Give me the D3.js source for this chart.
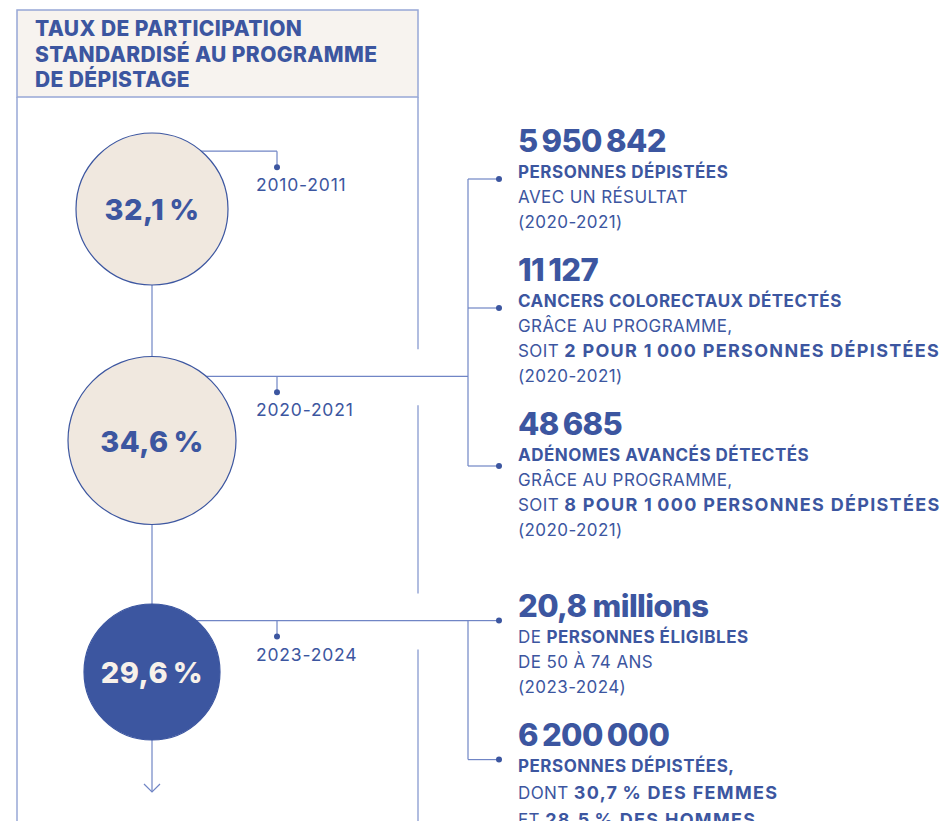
<!DOCTYPE html>
<html>
<head>
<meta charset="utf-8">
<script src="https://cdn.jsdelivr.net/npm/d3@7"></script>
<style>
  body { margin: 0; background: #fff; }
  svg { display: block; font-family: Inter, Lato, sans-serif; }
</style>
</head>
<body>
<svg id="chart" width="950" height="821"></svg>
<script>
// data
const headerLines = ['TAUX DE PARTICIPATION', 'STANDARDISÉ AU PROGRAMME', 'DE DÉPISTAGE'];
const periods = ['2010-2011', '2020-2021', '2023-2024'];
const rates = [32.1, 34.6, 29.6];
const highlight = '2023-2024';

const statValues = ['5\u2009950\u2009842', '11\u2009127', '48\u2009685', '20,8 millions', '6\u2009200\u2009000'];
const statPeriod = ['2020-2021', '2020-2021', '2020-2021', '2023-2024', '2023-2024'];
// each line: list of [text, weight] -> 0 regular, 1 bold, 2 bold emphasis
const statLines = [
  [[['PERSONNES DÉPISTÉES', 1]], [['AVEC UN RÉSULTAT', 0]], [['(2020-2021)', 0]]],
  [[['CANCERS COLORECTAUX DÉTECTÉS', 1]], [['GRÂCE AU PROGRAMME,', 0]],
   [['SOIT ', 0], ['2 POUR 1\u2009000 PERSONNES DÉPISTÉES', 2]], [['(2020-2021)', 0]]],
  [[['ADÉNOMES AVANCÉS DÉTECTÉS', 1]], [['GRÂCE AU PROGRAMME,', 0]],
   [['SOIT ', 0], ['8 POUR 1\u2009000 PERSONNES DÉPISTÉES', 2]], [['(2020-2021)', 0]]],
  [[['DE ', 0], ['PERSONNES ÉLIGIBLES', 1]], [['DE 50 À 74 ANS', 0]], [['(2023-2024)', 0]]],
  [[['PERSONNES DÉPISTÉES,', 1]], [['DONT ', 0], ['30,7\u2009% DES FEMMES', 2]],
   [['ET ', 0], ['28,5\u2009% DES HOMMES', 2]]]
];

// layout
const dotShift = [27, 27, 31, 4, 14];
const lineGap = [25, 25, 25, 25, 27];
const textBlue = '#3c56a0', lineBlue = '#7085c5', borderBlue = '#97a7d6';
const headFill = '#f7f3ef', circleFill = '#f0e8df', lightText = '#f7f1ea';
const partSize = [17, 17, 18], partSpacing = [0.4, 0.5, 1.3], partWeight = [400, 700, 700];

const fr = d3.formatLocale({decimal: ',', thousands: '\u2009', grouping: [3], currency: ['', ' €']});
const fmtRate = v => fr.format('.1f')(v) + '\u2009%';

const svg = d3.select('#chart');
const cx = 152, tickX = 277, bracketX = 468, dotX = 499, textX = 518;

const y = d3.scalePoint().domain(periods).range([209, 672]);
const r = d3.scaleLinear().domain(d3.extent(rates)).range([68, 84]);
const linkY = (p, v) => y(p) - 0.8 * r(v) + 3;

// frame
svg.append('rect')
  .attr('x', 17).attr('y', 10).attr('width', 401).attr('height', 87)
  .attr('fill', headFill).attr('stroke', borderBlue).attr('stroke-width', 1.5);
svg.append('line').attr('x1', 17).attr('x2', 17).attr('y1', 97).attr('y2', 821)
  .attr('stroke', borderBlue).attr('stroke-width', 1.5);

// right border is cut where the long links pass
const cuts = periods.filter(p => statPeriod.includes(p))
  .map(p => linkY(p, rates[periods.indexOf(p)]));
let segs = [], start = 97;
cuts.forEach(c => { segs.push([start, c - 27]); start = c + 29; });
segs.push([start, 821]);
svg.selectAll('.rborder').data(segs).join('line')
  .attr('x1', 418).attr('x2', 418)
  .attr('y1', d => d[0]).attr('y2', d => d[1])
  .attr('stroke', borderBlue).attr('stroke-width', 1.5);

svg.selectAll('.head').data(headerLines).join('text')
  .attr('x', 35).attr('y', (d, i) => 36 + i * 25.5)
  .attr('fill', textBlue).attr('font-size', 21).attr('font-weight', 800)
  .attr('letter-spacing', 0.4)
  .text(d => d);

// spine with arrow
svg.append('line').attr('x1', cx).attr('x2', cx)
  .attr('y1', y(periods[0])).attr('y2', 792)
  .attr('stroke', lineBlue).attr('stroke-width', 1.2);
svg.append('path').attr('d', `M${cx - 8},784L${cx},792L${cx + 8},784`)
  .attr('fill', 'none').attr('stroke', lineBlue).attr('stroke-width', 1.2);

// stat blocks positions
const blocks = [];
let base = 152, prevPeriod = null;
statValues.forEach((v, i) => {
  const p = statPeriod[i];
  if (p !== prevPeriod && prevPeriod !== null) {
    base = linkY(p, rates[periods.indexOf(p)]) - 4;
  }
  prevPeriod = p;
  const lines = statLines[i];
  blocks.push({value: v, period: p, base, lines, gap: lineGap[i], dotY: base + dotShift[i]});
  base = base + 26 + lineGap[i] * (lines.length - 1) + 53;
});

// links from circles
periods.forEach((p, i) => {
  const ly = linkY(p, rates[i]);
  const hasStats = statPeriod.includes(p);
  const endX = hasStats ? bracketX : tickX;
  svg.append('line').attr('x1', cx).attr('x2', endX).attr('y1', ly).attr('y2', ly)
    .attr('stroke', lineBlue).attr('stroke-width', 1.2);
  svg.append('line').attr('x1', tickX).attr('x2', tickX).attr('y1', ly).attr('y2', ly + 16)
    .attr('stroke', lineBlue).attr('stroke-width', 1.2);
  svg.append('circle').attr('cx', tickX).attr('cy', ly + 16).attr('r', 3).attr('fill', textBlue);
  svg.append('text').attr('x', 256).attr('y', ly + 40)
    .attr('fill', textBlue).attr('font-size', 17.5).attr('letter-spacing', 0.8).text(p);

  if (hasStats) {
    const bs = blocks.filter(b => b.period === p);
    const ys = bs.map(b => b.dotY).concat([ly]);
    svg.append('line').attr('x1', bracketX).attr('x2', bracketX)
      .attr('y1', d3.min(ys)).attr('y2', d3.max(ys))
      .attr('stroke', lineBlue).attr('stroke-width', 1.2);
  }
});

// circles
const g = svg.selectAll('.rate').data(periods).join('g')
  .attr('transform', d => `translate(${cx},${y(d)})`);
g.append('circle')
  .attr('r', (d, i) => r(rates[i]))
  .attr('fill', d => d === highlight ? textBlue : circleFill)
  .attr('stroke', textBlue).attr('stroke-width', 1.2);
g.append('text')
  .attr('text-anchor', 'middle').attr('y', 11)
  .attr('fill', d => d === highlight ? lightText : textBlue)
  .attr('font-size', 29).attr('font-weight', 800).attr('letter-spacing', 0.5)
  .text((d, i) => fmtRate(rates[i]));

// stat blocks
const sb = svg.selectAll('.stat').data(blocks).join('g');
sb.append('line').attr('x1', bracketX).attr('x2', dotX)
  .attr('y1', d => d.dotY).attr('y2', d => d.dotY)
  .attr('stroke', lineBlue).attr('stroke-width', 1.2);
sb.append('circle').attr('cx', dotX).attr('cy', d => d.dotY).attr('r', 3).attr('fill', textBlue);
sb.append('text').attr('x', textX).attr('y', d => d.base)
  .attr('fill', textBlue).attr('font-size', 31).attr('font-weight', 800)
  .attr('letter-spacing', -0.6)
  .text(d => d.value);
sb.each(function(d) {
  d3.select(this).selectAll('.ln').data(d.lines).join('text')
    .attr('x', textX).attr('y', (l, k) => d.base + 26 + d.gap * k)
    .attr('fill', textBlue)
    .selectAll('tspan').data(l => l).join('tspan')
    .attr('font-size', s => partSize[s[1]])
    .attr('letter-spacing', s => partSpacing[s[1]])
    .attr('font-weight', s => partWeight[s[1]])
    .text(s => s[0]);
});
</script>
</body>
</html>
